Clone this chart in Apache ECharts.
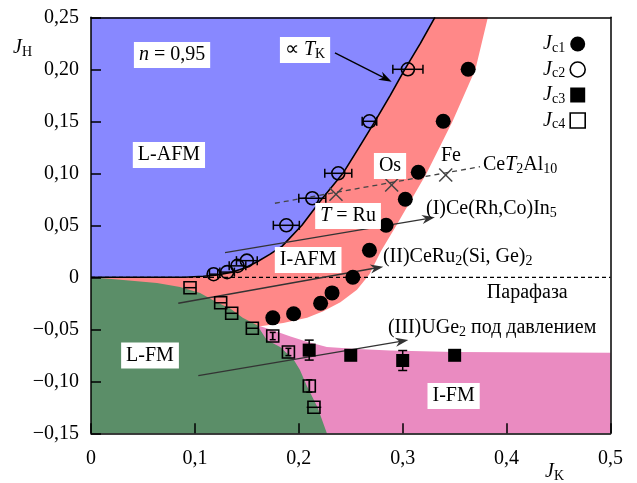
<!DOCTYPE html>
<html><head><meta charset="utf-8">
<script src="https://cdn.jsdelivr.net/npm/echarts@6/dist/echarts.min.js"></script>
<style>html,body{margin:0;padding:0;background:#fff}#c{width:637px;height:483px}</style>
</head><body><div id="c"></div>
<script>
// ---- data (JK, JH) ----
const xTicks = [0, 0.1, 0.2, 0.3, 0.4, 0.5];
const yTicks = [-0.15, -0.10, -0.05, 0, 0.05, 0.10, 0.15, 0.20, 0.25];

const jc1 = [[0.363,0.200],[0.339,0.150],[0.315,0.101],[0.3025,0.075],[0.284,0.050],[0.268,0.026],
             [0.252,0.000],[0.232,-0.015],[0.221,-0.025],[0.195,-0.035],[0.175,-0.039]];
// [x, y, x-error]
const jc2 = [[0.305,0.200,0.0145],[0.268,0.150,0.007],[0.238,0.100,0.013],[0.213,0.076,0.013],
             [0.188,0.050,0.0125],[0.150,0.016,0.010],[0.141,0.011,0.008],[0.131,0.005,0.007],[0.118,0.003,0.004]];
// [x, y, y-error]
const jc3 = [[0.210,-0.070,0.0096],[0.250,-0.075,0],[0.300,-0.080,0.0096],[0.350,-0.075,0]];
// [x, y, x-error, y-error]
const jc4 = [[0.0953,-0.010,0.006,0],[0.1248,-0.0245,0.006,0],[0.1354,-0.0346,0.006,0],[0.1553,-0.049,0.006,0],
             [0.1749,-0.0565,0,0.0035],[0.190,-0.0718,0,0.0035],[0.2101,-0.1045,0,0.006],[0.2146,-0.125,0.007,0]];

const ceT2Al10Line = [[0.177,0.0712],[0.3744,0.1063]];
const ceT2Al10Pts = [[0.2358,0.0798],[0.2894,0.0888],[0.3414,0.0984]];

// arrows: [x1, y1, x2, y2]
const arrowsData = [[0.2348,0.2157,0.2894,0.1881],[0.129,0.0237,0.331,0.0577],
                    [0.084,-0.025,0.2813,0.0102],[0.1033,-0.0946,0.3054,-0.0603]];

// phase boundaries
const tkCurve = [[0,0],[0.09,0],[0.108,0.001],[0.12,0.002],[0.136,0.005],[0.148,0.009],[0.16,0.015],
                 [0.172,0.022],[0.184,0.030],[0.203,0.050],[0.222,0.075],[0.2425,0.100],[0.258,0.125],
                 [0.2733,0.150],[0.288,0.175],[0.302,0.200],[0.317,0.225],[0.331,0.250]];
const redEdge = [[0.382,0.25],[0.370,0.20],[0.348,0.15],[0.323,0.10],[0.294,0.05],[0.279,0.025],[0.268,0.003],
                 [0.256,-0.012],[0.240,-0.024],[0.223,-0.033],[0.208,-0.039],[0.185,-0.044],[0.163,-0.047]];
const pinkEdge = [[0.160,-0.046],[0.175,-0.051],[0.192,-0.057],[0.208,-0.062],[0.227,-0.067],[0.256,-0.069],
                  [0.288,-0.0705],[0.35,-0.0718],[0.5,-0.0725]];
const greenEdge = [[0,0],[0.031,-0.0026],[0.0635,-0.0055],[0.0857,-0.0093],[0.105,-0.015],[0.121,-0.024],
                   [0.134,-0.030],[0.146,-0.039],[0.160,-0.046],[0.169,-0.060],[0.182,-0.067],[0.195,-0.079],
                   [0.201,-0.089],[0.208,-0.105],[0.218,-0.125],[0.227,-0.15]];

const bluePoly = [[0,0.25]].concat(tkCurve);
const redPoly = tkCurve.concat(redEdge).concat([[0.1,-0.05],[0,-0.02]]);
const pinkPoly = pinkEdge.concat([[0.5,-0.15],[0.16,-0.15]]);
const greenPoly = greenEdge.concat([[0,-0.15]]);

// annotation texts and anchor points (data coords)
const boxedTexts = ['{i|n} = 0,95', '∝ {i|T}{s|K}', 'L-AFM', 'I-AFM', 'L-FM', 'I-FM', 'Os', '{i|T} = Ru'];
const boxedAt = [[0.078,0.2137],[0.206,0.2186],[0.075,0.1176],[0.209,0.0166],[0.0568,-0.0753],[0.349,-0.1141],[0.2878,0.107],[0.2474,0.0589]];
const leftTexts = ['Fe', 'Ce{i|T}{s|2}Al{s|10}', '(I)Ce(Rh,Co)In{s|5}', '(II)CeRu{s|2}(Si, Ge){s|2}', 'Парафаза', '(III)UGe{s|2} под давлением'];
const leftAt = [[0.3368,0.1166],[0.3773,0.108],[0.3224,0.0657],[0.281,0.0195],[0.381,-0.0151],[0.2858,-0.0487]];

// ---- styling ----
const FF = "'Liberation Serif', 'Times New Roman', serif";
const rich = {
  i: {fontFamily: FF, fontStyle: 'italic', fontSize: 20, color: '#000'},
  s: {fontFamily: FF, fontSize: 14, lineHeight: 10, verticalAlign: 'bottom', color: '#000'}
};
const C = {blue: '#8888ff', red: '#ff8888', green: '#5b8e68', pink: '#ea8bc1'};

function polySeries(points, color, z) {
  return {
    type: 'custom', z: z, silent: true, animation: false, clip: false,
    data: points,
    renderItem: function (params, api) {
      if (params.dataIndex !== 0) return null;
      return {type: 'polygon', shape: {points: points.map(p => api.coord(p))}, style: {fill: color}};
    }
  };
}
function ln(a, b, stroke, w) {
  return {type: 'line', shape: {x1: a[0], y1: a[1], x2: b[0], y2: b[1]}, style: {stroke: stroke, lineWidth: w}};
}

const fmtY = v => Math.abs(v) < 1e-9 ? '0' : (v < 0 ? '\u2212' : '') + Math.abs(v).toFixed(2).replace('.', ',');
const fmtX = v => Math.abs(v) < 1e-9 ? '0' : v.toFixed(1).replace('.', ',');

const axisLineStyle = {color: '#000', width: 1.5};

const option = {
  animation: false,
  backgroundColor: '#fff',
  grid: {left: 91, right: 26.5, top: 17.3, bottom: 49.7},
  xAxis: [
    {type: 'value', min: 0, max: 0.5, interval: 0.1, position: 'bottom', z: 10,
     axisLine: {onZero: false, lineStyle: axisLineStyle},
     axisTick: {inside: true, length: 10, lineStyle: axisLineStyle},
     axisLabel: {formatter: fmtX, fontFamily: FF, fontSize: 20, color: '#000', margin: 15},
     splitLine: {show: false}},
    {type: 'value', min: 0, max: 0.5, position: 'top', z: 10,
     axisLine: {onZero: false, lineStyle: axisLineStyle},
     axisTick: {show: false}, axisLabel: {show: false}, splitLine: {show: false}}
  ],
  yAxis: [
    {type: 'value', min: -0.15, max: 0.25, interval: 0.05, position: 'left', z: 10,
     axisLine: {onZero: false, lineStyle: axisLineStyle},
     axisTick: {inside: true, length: 10, lineStyle: axisLineStyle},
     axisLabel: {formatter: fmtY, fontFamily: FF, fontSize: 20, color: '#000', margin: 12},
     splitLine: {show: false}},
    {type: 'value', min: -0.15, max: 0.25, position: 'right', z: 10,
     axisLine: {onZero: false, lineStyle: axisLineStyle},
     axisTick: {show: false}, axisLabel: {show: false}, splitLine: {show: false}}
  ],
  legend: {
    orient: 'vertical', right: 46, top: 28, align: 'right', selectedMode: false,
    itemWidth: 15, itemHeight: 15, itemGap: 3.5,
    formatter: n => '{i|J}{s|' + n + '}',
    textStyle: {fontFamily: FF, fontSize: 20, lineHeight: 22, color: '#000', rich: rich},
    data: [
      {name: 'c1', icon: 'circle', itemStyle: {color: '#000'}},
      {name: 'c2', icon: 'circle', itemStyle: {color: '#fff', borderColor: '#000', borderWidth: 1.6}},
      {name: 'c3', icon: 'rect', itemStyle: {color: '#000'}},
      {name: 'c4', icon: 'rect', itemStyle: {color: '#fff', borderColor: '#000', borderWidth: 1.6}}
    ]
  },
  graphic: [
    {type: 'text', x: 13, y: 48, z: 100,
     style: {text: '{i|J}{s|H}', rich: rich, fontFamily: FF, fontSize: 20, lineHeight: 22, verticalAlign: 'middle', align: 'left'}},
    {type: 'text', x: 545, y: 472, z: 100,
     style: {text: '{i|J}{s|K}', rich: rich, fontFamily: FF, fontSize: 20, lineHeight: 22, verticalAlign: 'middle', align: 'left'}}
  ],
  series: [
    polySeries(pinkPoly, C.pink, 1),
    polySeries(redPoly, C.red, 1.1),
    polySeries(greenPoly, C.green, 1.2),
    polySeries(bluePoly, C.blue, 1.3),
    {type: 'line', z: 3, silent: true, symbol: 'none', data: [[0, 0], [0.5, 0]],
     lineStyle: {color: '#000', width: 1.3, type: [4, 3]}},
    {type: 'line', z: 3, silent: true, symbol: 'none', data: tkCurve,
     lineStyle: {color: '#000', width: 1.6}},
    {type: 'line', z: 3, silent: true, symbol: 'none', data: ceT2Al10Line,
     lineStyle: {color: '#444', width: 1.3, type: [5, 4]}},
    {type: 'custom', z: 4, silent: true, data: ceT2Al10Pts,
     renderItem: function (params, api) {
       const p = api.coord([api.value(0), api.value(1)]); const d = 6.5;
       return {type: 'group', children: [
         ln([p[0]-d, p[1]-d], [p[0]+d, p[1]+d], '#444', 1.5),
         ln([p[0]-d, p[1]+d], [p[0]+d, p[1]-d], '#444', 1.5)]};
     }},
    {type: 'custom', z: 4, silent: true, data: arrowsData,
     renderItem: function (params, api) {
       const a = api.coord([api.value(0), api.value(1)]);
       const b = api.coord([api.value(2), api.value(3)]);
       const col = params.dataIndex === 0 ? '#000' : '#333';
       const dx = b[0]-a[0], dy = b[1]-a[1], L = Math.sqrt(dx*dx+dy*dy);
       const ux = dx/L, uy = dy/L, hl = 13, hw = 4.5;
       const base = [b[0]-ux*hl, b[1]-uy*hl];
       return {type: 'group', children: [
         ln(a, [b[0]-ux*hl*0.6, b[1]-uy*hl*0.6], col, 1.4),
         {type: 'polygon', shape: {points: [b, [base[0]-uy*hw, base[1]+ux*hw], [b[0]-ux*hl*0.7, b[1]-uy*hl*0.7], [base[0]+uy*hw, base[1]-ux*hw]]},
          style: {fill: col}}]};
     }},
    {type: 'custom', z: 5, silent: true, data: jc2,
     renderItem: function (params, api) {
       const x = api.value(0), y = api.value(1), e = api.value(2);
       const a = api.coord([x-e, y]), b = api.coord([x+e, y]);
       return {type: 'group', children: [ln(a, b, '#000', 1.5),
         ln([a[0], a[1]-4.5], [a[0], a[1]+4.5], '#000', 1.5), ln([b[0], b[1]-4.5], [b[0], b[1]+4.5], '#000', 1.5)]};
     }},
    {type: 'custom', z: 5, silent: true, data: jc3,
     renderItem: function (params, api) {
       const x = api.value(0), y = api.value(1), e = api.value(2);
       if (!e) return null;
       const a = api.coord([x, y-e]), b = api.coord([x, y+e]);
       return {type: 'group', children: [ln(a, b, '#000', 1.5),
         ln([a[0]-4.5, a[1]], [a[0]+4.5, a[1]], '#000', 1.5), ln([b[0]-4.5, b[1]], [b[0]+4.5, b[1]], '#000', 1.5)]};
     }},
    {type: 'custom', z: 5, silent: true, data: jc4,
     renderItem: function (params, api) {
       const x = api.value(0), y = api.value(1), ex = api.value(2), ey = api.value(3);
       const ch = [];
       if (ex) { const a = api.coord([x-ex, y]), b = api.coord([x+ex, y]); ch.push(ln(a, b, '#000', 1.5)); }
       if (ey) { const a = api.coord([x, y-ey]), b = api.coord([x, y+ey]);
         ch.push(ln(a, b, '#000', 1.8), ln([a[0]-3, a[1]], [a[0]+3, a[1]], '#000', 1.5), ln([b[0]-3, b[1]], [b[0]+3, b[1]], '#000', 1.5)); }
       return {type: 'group', children: ch};
     }},
    {name: 'c1', type: 'scatter', z: 6, silent: true, symbol: 'circle', symbolSize: 15, data: jc1,
     itemStyle: {color: '#000', opacity: 1}},
    {name: 'c2', type: 'scatter', z: 6, silent: true, symbol: 'circle', symbolSize: 13,
     data: jc2.map(d => [d[0], d[1]]),
     itemStyle: {color: 'rgba(0,0,0,0)', borderColor: '#000', borderWidth: 1.6, opacity: 1}},
    {name: 'c3', type: 'scatter', z: 6, silent: true, symbol: 'rect', symbolSize: 13,
     data: jc3.map(d => [d[0], d[1]]), itemStyle: {color: '#000', opacity: 1}},
    {name: 'c4', type: 'scatter', z: 6, silent: true, symbol: 'rect', symbolSize: 12,
     data: jc4.map(d => [d[0], d[1]]),
     itemStyle: {color: 'rgba(0,0,0,0)', borderColor: '#000', borderWidth: 1.6, opacity: 1}},
    {type: 'scatter', z: 8, silent: true, symbolSize: 0, itemStyle: {opacity: 1},
     data: boxedAt.map((p, i) => ({value: p, text: boxedTexts[i]})),
     label: {show: true, position: 'inside', formatter: p => p.data.text, opacity: 1,
             fontFamily: FF, fontSize: 20, lineHeight: 22, color: '#000',
             backgroundColor: '#fff', padding: [2, 5, 2, 5], rich: rich}},
    {type: 'scatter', z: 8, silent: true, symbolSize: 0, itemStyle: {opacity: 1},
     data: leftAt.map((p, i) => ({value: p, text: leftTexts[i]})),
     label: {show: true, position: 'right', distance: 0, formatter: p => p.data.text, opacity: 1,
             fontFamily: FF, fontSize: 20, lineHeight: 22, color: '#000', rich: rich}}
  ]
};

const chart = echarts.init(document.getElementById('c'), null, {renderer: 'canvas'});
chart.setOption(option);
</script>
</body></html>
